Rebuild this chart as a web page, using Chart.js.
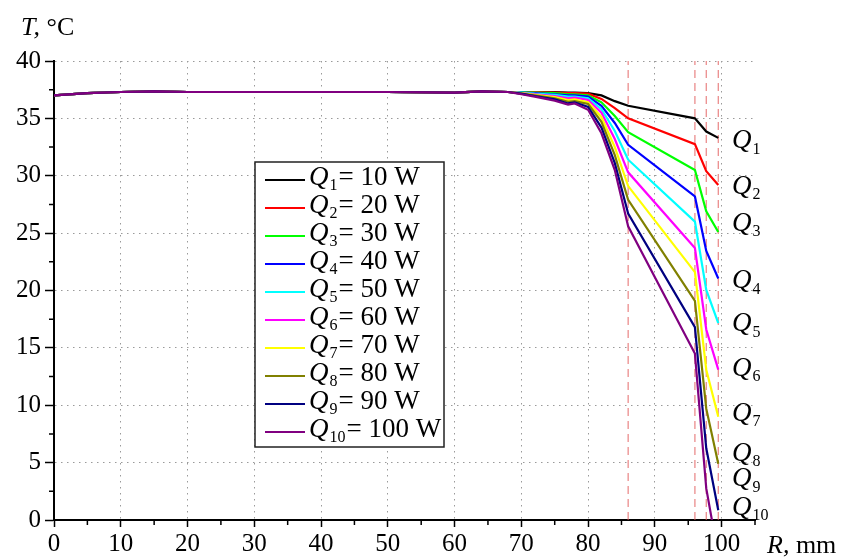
<!DOCTYPE html>
<html>
<head>
<meta charset="utf-8">
<script src="https://cdn.jsdelivr.net/npm/chart.js"></script>
<style>
  html, body { margin: 0; padding: 0; background: #fff; }
  #wrap { width: 848px; height: 557px; }
</style>
</head>
<body>
<div id="wrap"><canvas id="chart" width="848" height="557"></canvas></div>
<script>
// radius R, mm
let rValues = [0, 5, 10, 15, 20, 30, 40, 50, 60, 64, 68, 70, 72, 75, 77, 78, 80, 82, 84, 86, 96, 97.7, 99.5];

// temperature T, degC, one list per heat power
let q1 = [37.0, 37.2, 37.3, 37.35, 37.3, 37.3, 37.3, 37.3, 37.25, 37.35, 37.3, 37.3, 37.3, 37.3, 37.25, 37.25, 37.2, 37.0, 36.5, 36.1, 35.0, 33.85, 33.3];
let q2 = [37.0, 37.2, 37.3, 37.35, 37.3, 37.3, 37.3, 37.3, 37.25, 37.35, 37.3, 37.3, 37.3, 37.25, 37.2, 37.2, 37.15, 36.7, 35.9, 35.0, 32.75, 30.4, 29.2];
let q3 = [37.0, 37.2, 37.3, 37.35, 37.3, 37.3, 37.3, 37.3, 37.25, 37.35, 37.3, 37.3, 37.25, 37.2, 37.1, 37.1, 37.0, 36.4, 35.2, 33.8, 30.5, 26.9, 25.1];
let q4 = [37.0, 37.2, 37.3, 37.35, 37.3, 37.3, 37.3, 37.3, 37.25, 37.35, 37.3, 37.25, 37.2, 37.1, 37.0, 37.0, 36.9, 36.1, 34.6, 32.7, 28.2, 23.45, 21.05];
let q5 = [37.0, 37.2, 37.3, 37.35, 37.3, 37.3, 37.3, 37.3, 37.25, 37.35, 37.3, 37.25, 37.15, 37.05, 36.9, 36.9, 36.75, 35.8, 33.9, 31.4, 26.0, 20.05, 17.15];
let q6 = [37.0, 37.2, 37.3, 37.35, 37.3, 37.3, 37.3, 37.3, 37.25, 37.35, 37.3, 37.2, 37.1, 36.95, 36.75, 36.8, 36.6, 35.5, 33.2, 30.3, 23.7, 16.6, 13.1];
let q7 = [37.0, 37.2, 37.3, 37.35, 37.3, 37.3, 37.3, 37.3, 37.25, 37.35, 37.3, 37.2, 37.05, 36.85, 36.6, 36.65, 36.4, 35.1, 32.5, 29.1, 21.6, 13.1, 9.0];
let q8 = [37.0, 37.2, 37.3, 37.35, 37.3, 37.3, 37.3, 37.3, 37.25, 37.35, 37.3, 37.15, 37.0, 36.75, 36.45, 36.5, 36.25, 34.7, 31.8, 27.9, 19.1, 9.7, 4.9];
let q9 = [37.0, 37.2, 37.3, 37.35, 37.3, 37.3, 37.3, 37.3, 37.25, 37.35, 37.3, 37.15, 36.95, 36.65, 36.3, 36.4, 36.0, 34.2, 31.1, 26.7, 16.8, 6.25, 0.85];
let q10 = [37.0, 37.2, 37.3, 37.35, 37.3, 37.3, 37.3, 37.3, 37.25, 37.35, 37.3, 37.1, 36.9, 36.55, 36.2, 36.3, 35.75, 33.7, 30.5, 25.6, 14.5, 2.75, -3.1];

let series = [q1, q2, q3, q4, q5, q6, q7, q8, q9, q10];
let qIndex = ["1", "2", "3", "4", "5", "6", "7", "8", "9", "10"];
let qPower = [10, 20, 30, 40, 50, 60, 70, 80, 90, 100];
let colors = ["#000000", "#ff0000", "#00ff00", "#0000ff", "#00ffff", "#ff00ff", "#ffff00", "#808000", "#000080", "#800080"];

// red dashed markers, R in mm
let markR = [86, 96, 97.7, 99.5];

// where the Q labels sit on the right, T in degC
let labelT = [33.1, 29.1, 25.9, 20.9, 17.15, 13.25, 9.35, 5.85, 3.65, 1.15];

// minor ticks
let minorR = [5, 15, 25, 35, 45, 55, 65, 75, 85, 95, 105];
let minorT = [2.5, 7.5, 12.5, 17.5, 22.5, 27.5, 32.5, 37.5];

let serif = "'Liberation Serif', 'Times New Roman', serif";

let datasets = [];
for (let i = 0; i < series.length; i++) {
  let pts = [];
  for (let j = 0; j < rValues.length; j++) {
    pts.push({ x: rValues[j], y: series[i][j] });
  }
  datasets.push({
    label: "Q" + qIndex[i],
    data: pts,
    borderColor: colors[i],
    borderWidth: 2.2,
    pointRadius: 0,
    fill: false,
    tension: 0,
    order: 9 - i
  });
}
for (let k = 0; k < markR.length; k++) {
  datasets.push({
    label: "mark" + k,
    data: [{ x: markR[k], y: 0 }, { x: markR[k], y: 40 }],
    borderColor: "rgba(225, 90, 90, 0.75)",
    borderWidth: 1.2,
    borderDash: [8, 5],
    pointRadius: 0,
    fill: false,
    order: 20
  });
}

function drawQ(ctx, x, y, sub, size) {
  // italic Q with a subscript, y is the baseline
  ctx.font = "italic " + size + "px " + serif;
  ctx.textAlign = "left";
  ctx.textBaseline = "alphabetic";
  ctx.fillText("Q", x, y);
  let w = ctx.measureText("Q").width;
  let subSize = Math.round(size * 0.58);
  ctx.font = subSize + "px " + serif;
  ctx.fillText(sub, x + w + 1, y + size * 0.2);
  return x + w + 1 + ctx.measureText(sub).width;
}

let extras = {
  id: "extras",
  afterDraw(chart) {
    let ctx = chart.ctx;
    let xs = chart.scales.x;
    let ys = chart.scales.y;
    let area = chart.chartArea;
    ctx.save();
    ctx.fillStyle = "#000";
    ctx.strokeStyle = "#000";

    // minor ticks
    ctx.lineWidth = 1.5;
    ctx.beginPath();
    for (let v of minorR) {
      let px = xs.getPixelForValue(v);
      ctx.moveTo(px, area.bottom);
      ctx.lineTo(px, area.bottom + 5);
    }
    for (let v of minorT) {
      let py = ys.getPixelForValue(v);
      ctx.moveTo(area.left, py);
      ctx.lineTo(area.left - 5, py);
    }
    ctx.stroke();

    // axis titles
    ctx.textBaseline = "alphabetic";
    ctx.textAlign = "left";
    ctx.font = "italic 26px " + serif;
    ctx.fillText("T,", 21, 35);
    let tw = ctx.measureText("T,").width;
    ctx.font = "26px " + serif;
    ctx.fillText(" °C", 21 + tw, 35);

    ctx.font = "italic 26px " + serif;
    ctx.fillText("R,", 767, 553);
    let rw = ctx.measureText("R,").width;
    ctx.font = "26px " + serif;
    ctx.fillText(" mm", 767 + rw, 553);

    // curve labels on the right
    for (let i = 0; i < labelT.length; i++) {
      let py = ys.getPixelForValue(labelT[i]);
      drawQ(ctx, 732, py + 8, qIndex[i], 27);
    }

    // legend box
    let bx = 255, by = 162, bw = 189, bh = 285;
    ctx.fillStyle = "#fff";
    ctx.fillRect(bx, by, bw, bh);
    ctx.lineWidth = 1.5;
    ctx.strokeStyle = "#222";
    ctx.strokeRect(bx, by, bw, bh);
    for (let i = 0; i < qIndex.length; i++) {
      let ly = 180 + i * 28;
      ctx.strokeStyle = colors[i];
      ctx.lineWidth = 2.2;
      ctx.beginPath();
      ctx.moveTo(265, ly);
      ctx.lineTo(305, ly);
      ctx.stroke();
      ctx.fillStyle = "#000";
      let endX = drawQ(ctx, 309, ly + 5, qIndex[i], 27);
      ctx.font = "27px " + serif;
      ctx.textAlign = "left";
      ctx.fillText("= " + qPower[i] + " W", Math.max(endX + 1, 330), ly + 5);
    }
    ctx.restore();
  }
};

new Chart(document.getElementById("chart"), {
  type: "line",
  data: { datasets: datasets },
  options: {
    responsive: false,
    animation: false,
    layout: { padding: { left: 0, right: 93, top: 61, bottom: 0 } },
    plugins: {
      legend: { display: false },
      tooltip: { enabled: false }
    },
    scales: {
      x: {
        type: "linear",
        min: 0,
        max: 105,
        afterFit(scale) { scale.height = 37; },
        ticks: {
          stepSize: 10,
          includeBounds: false,
          color: "#000",
          padding: 2,
          maxRotation: 0,
          font: { family: serif, size: 25 }
        },
        grid: {
          color: (c) => (c.tick && c.tick.value === 0 ? "rgba(0,0,0,0)" : "#9a9a9a"),
          lineWidth: 1,
          tickColor: "#000",
          tickLength: 7,
          tickWidth: 1.5
        },
        border: { color: "#000", width: 2, dash: [1.5, 4.5] }
      },
      y: {
        type: "linear",
        min: 0,
        max: 40,
        afterFit(scale) { scale.width = 54; },
        ticks: {
          stepSize: 5,
          color: "#000",
          padding: 4,
          font: { family: serif, size: 25 }
        },
        grid: {
          color: (c) => (c.tick && c.tick.value === 0 ? "rgba(0,0,0,0)" : "#9a9a9a"),
          lineWidth: 1,
          tickColor: "#000",
          tickLength: 9,
          tickWidth: 1.5
        },
        border: { color: "#000", width: 2, dash: [1.5, 4.5] }
      }
    }
  },
  plugins: [extras]
});
</script>
</body>
</html>
